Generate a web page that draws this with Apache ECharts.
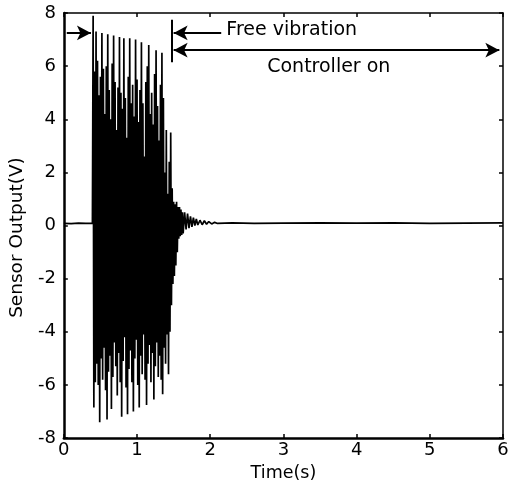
<!DOCTYPE html>
<html>
<head>
<meta charset="utf-8">
<script src="https://cdn.jsdelivr.net/npm/echarts@6/dist/echarts.min.js"></script>
<style>html,body{margin:0;padding:0;background:#fff;}#c{width:514px;height:487px;}</style>
</head>
<body>
<div id="c"></div>
<script>
// ---- data ----
const xTicks = [0, 1, 2, 3, 4, 5, 6];
const yTicks = [-8, -6, -4, -2, 0, 2, 4, 6, 8];
// before excitation
const preTime = [0, 0.1, 0.2, 0.3, 0.39];
const preVolt = [0.08, 0.07, 0.09, 0.08, 0.08];
// forced vibration, sampled every 0.01 s starting at 0.40 s
const forcedStart = 0.40;
const sampleDt = 0.01;
const forcedVolt = [
  7.9, -6.85, 5.8, -5.9, 7.3, -5.2, 6.2, -6.0, 4.9, -7.4,
  5.6, -5.0, 7.25, -5.8, 5.9, -4.6, 4.2, -6.2, 6.0, -7.3,
  7.2, -5.5, 5.1, -4.9, 4.0, -6.9, 6.1, -5.7, 7.15, -4.4,
  5.4, -5.3, 3.6, -6.4, 5.2, -4.8, 7.1, -5.9, 5.0, -7.2,
  4.4, -5.1, 7.05, -4.2, 4.8, -6.1, 3.3, -7.1, 5.6, -5.4,
  7.05, -4.7, 4.6, -5.9, 5.3, -7.0, 4.1, -5.0, 7.0, -4.3,
  5.5, -6.0, 3.9, -6.85, 5.1, -4.9, 6.9, -5.6, 4.6, -4.1,
  2.6, -5.8, 5.4, -6.75, 6.0, -5.2, 6.8, -4.5, 4.2, -5.9,
  5.0, -4.8, 3.8, -6.55, 5.7, -5.3, 6.6, -4.4, 4.5, -5.7,
  3.2, -4.9, 5.3, -5.8, 6.5, -6.35, 4.8, -4.6, 2.0, -5.2,
  3.6, -4.1, 1.2, -5.6, 2.4, -4.0, 3.5, -3.0
];
// free vibration decay
const freeTime = [1.48, 1.49, 1.50, 1.51, 1.52, 1.53, 1.54, 1.55, 1.56, 1.57, 1.58, 1.59, 1.60, 1.61, 1.62, 1.63, 1.65, 1.67, 1.69, 1.71, 1.73, 1.75, 1.77, 1.79, 1.81, 1.83, 1.86, 1.89, 1.92, 1.95, 1.98, 2.02, 2.06, 2.10];
const freeVolt = [1.4, -2.2, 0.9, -1.9, 0.8, -1.5, 0.9, -1.0, 0.7, -0.5, 0.7, -0.4, 0.6, -0.35, 0.5, -0.3, 0.5, -0.15, 0.45, -0.1, 0.35, -0.05, 0.3, 0.0, 0.25, 0.02, 0.2, 0.03, 0.18, 0.05, 0.15, 0.06, 0.12, 0.08];
// controller holding
const tailTime = [2.3, 2.6, 3.0, 3.5, 4.0, 4.5, 5.0, 5.5, 6.0];
const tailVolt = [0.1, 0.08, 0.09, 0.1, 0.09, 0.1, 0.08, 0.09, 0.1];

// annotation texts
const labelFree = 'Free vibration';
const labelCtrl = 'Controller on';

// ---- build ----
const signal = [];
preTime.forEach((t, i) => signal.push([t, preVolt[i]]));
forcedVolt.forEach((v, i) => signal.push([+(forcedStart + i * sampleDt).toFixed(2), v]));
freeTime.forEach((t, i) => signal.push([t, freeVolt[i]]));
tailTime.forEach((t, i) => signal.push([t, tailVolt[i]]));

const FONT = 'DejaVu Sans';
const chart = echarts.init(document.getElementById('c'), null, {renderer: 'canvas'});
function axis(extra, lineWidth) {
  return Object.assign({
    type: 'value',
    axisLine: {show: true, onZero: false, lineStyle: {color: '#000', width: lineWidth}},
    axisTick: {show: true, inside: true, length: 4, lineStyle: {color: '#000', width: 1.5}},
    splitLine: {show: false}
  }, extra);
}
chart.setOption({
  animation: false,
  backgroundColor: '#fff',
  grid: {left: 62, right: 11, top: 13, bottom: 46},
  xAxis: [
    axis({
      min: 0, max: 6, interval: 1, position: 'bottom',
      name: 'Time(s)', nameLocation: 'middle', nameGap: 25,
      nameTextStyle: {fontFamily: FONT, fontSize: 17.5, color: '#000'},
      axisLabel: {fontFamily: FONT, fontSize: 18, color: '#000', margin: 3}
    }, 2.5),
    axis({min: 0, max: 6, interval: 1, position: 'top', axisLabel: {show: false}}, 1.5)
  ],
  yAxis: [
    axis({
      min: -8, max: 8, interval: 2, position: 'left',
      name: 'Sensor Output(V)', nameLocation: 'middle', nameGap: 36,
      nameTextStyle: {fontFamily: FONT, fontSize: 18.5, color: '#000', padding: [0, 24, 0, 0]},
      axisLabel: {fontFamily: FONT, fontSize: 18, color: '#000', margin: 8}
    }, 2.5),
    axis({min: -8, max: 8, interval: 2, position: 'right', axisLabel: {show: false}}, 1.5)
  ],
  series: [{
    type: 'line',
    data: signal,
    showSymbol: false,
    lineStyle: {color: '#000', width: 1.7},
    markLine: {
      silent: true,
      symbolSize: [11, 14],
      label: {show: false},
      lineStyle: {color: '#000', width: 2, type: 'solid'},
      data: [
        [{coord: [0.04, 7.25], symbol: 'none'}, {coord: [0.37, 7.25], symbol: 'arrow'}],
        [{coord: [1.47, 7.75], symbol: 'none'}, {coord: [1.47, 6.15], symbol: 'none'}],
        [{coord: [2.15, 7.25], symbol: 'none'}, {coord: [1.50, 7.25], symbol: 'arrow'}],
        [{coord: [1.50, 6.6], symbol: 'arrow'}, {coord: [5.95, 6.6], symbol: 'arrow'}]
      ]
    },
    markPoint: {
      silent: true,
      symbol: 'circle', symbolSize: 0,
      data: [
        {coord: [2.22, 7.35], label: {show: true, formatter: labelFree, position: 'right', distance: 0, fontFamily: FONT, fontSize: 19, color: '#000'}},
        {coord: [3.62, 5.95], label: {show: true, formatter: labelCtrl, position: 'inside', fontFamily: FONT, fontSize: 19, color: '#000'}}
      ]
    }
  }]
});
</script>
</body>
</html>
